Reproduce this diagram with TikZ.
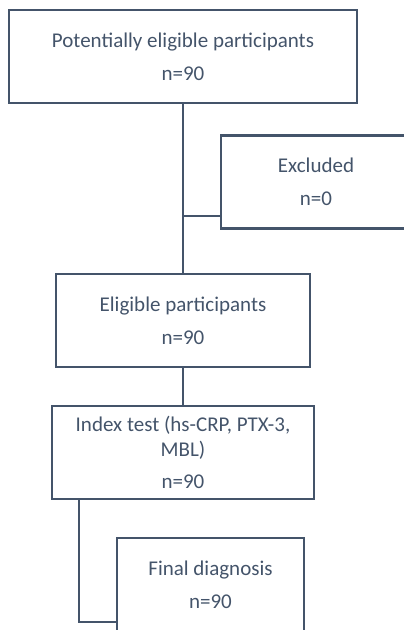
\documentclass[tikz,border=0pt]{standalone}
\usepackage{fontspec}
\setmainfont{Carlito}
\usepackage{tikz}
\usetikzlibrary{positioning,calc}
\definecolor{slate}{HTML}{44546A}

\begin{document}
\begin{tikzpicture}[
  x=1pt, y=-1pt,
  box/.style={draw=slate, line width=2.8pt, minimum height=93pt,
    inner sep=0pt, align=center, text=slate,
    font=\fontsize{21}{25}\selectfont},
  link/.style={draw=slate, line width=1.8pt},
]
\useasboundingbox (0,0) rectangle (404,630);

% Enrolment
\node[box, minimum width=348pt] (pot) at (183,56.5)
  {Potentially eligible participants\\[8pt] n=90};
\node[box, minimum width=190pt] (excl) at (316,182)
  {Excluded\\[8pt] n=0};

% Eligible
\node[box, minimum width=254pt] (elig) at (183,320.5)
  {Eligible participants\\[8pt] n=90};

% Index test
\node[box, minimum width=262pt] (index) at (183,452.5)
  {Index test (hs-CRP, PTX-3,\\ MBL)\\[7pt] n=90};

% Final diagnosis
\node[box, minimum width=187pt] (final) at (210.5,584.5)
  {Final diagnosis\\[8pt] n=90};

% Connectors
\coordinate (split) at (183,216);
\coordinate (bend) at (79,622);
\draw[link] (pot.south) -- (elig.north);
\draw[link] (split) -- (split -| excl.west);
\draw[link] (elig.south) -- (index.north);
\draw[link] (index.south -| bend) -- (bend) -- (bend -| final.west);
\end{tikzpicture}
\end{document}
